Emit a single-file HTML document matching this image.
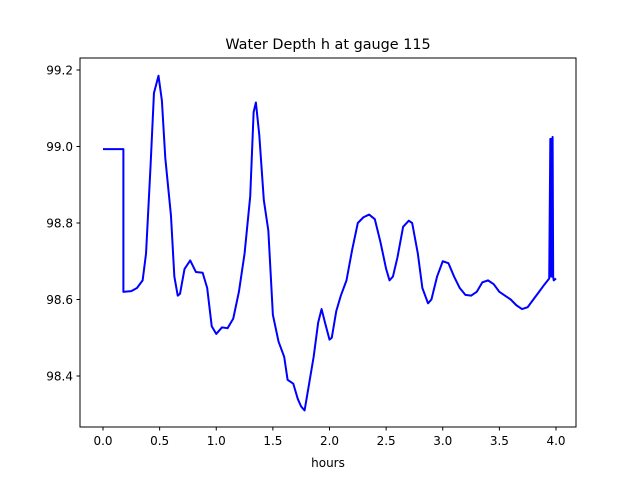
<!DOCTYPE html>
<html><head><meta charset="utf-8"><style>
body{margin:0;background:#fff}
svg{display:block}
text{font-family:"DejaVu Sans","Liberation Sans",sans-serif;font-size:12px;fill:#000}
</style></head><body>
<svg id="chart" width="640" height="480">
<rect width="640" height="480" fill="#fff"/>
<text x="328" y="49" text-anchor="middle" style="font-size:14.4px">Water Depth h at gauge 115</text>
<g id="plot"></g>
<rect x="80" y="58" width="496" height="369" fill="none" stroke="#000" stroke-width="1"/>
<text x="328" y="467" text-anchor="middle">hours</text>
</svg>
<script>
const hours=[0,0.18,0.18,0.25,0.3,0.35,0.38,0.42,0.45,0.49,0.52,0.55,0.6,0.63,0.66,0.68,0.72,0.77,0.82,0.88,0.92,0.96,1.0,1.05,1.1,1.15,1.2,1.25,1.3,1.33,1.35,1.38,1.42,1.46,1.5,1.55,1.6,1.63,1.68,1.72,1.75,1.78,1.82,1.86,1.9,1.93,1.96,2.0,2.02,2.06,2.1,2.15,2.2,2.25,2.3,2.35,2.4,2.45,2.5,2.53,2.56,2.6,2.65,2.7,2.73,2.78,2.82,2.87,2.9,2.95,3.0,3.05,3.1,3.15,3.2,3.25,3.3,3.35,3.4,3.45,3.5,3.55,3.6,3.65,3.7,3.75,3.8,3.85,3.9,3.94,3.95,3.955,3.96,3.965,3.97,3.975,3.98,4.0];
const depth=[98.993,98.993,98.62,98.622,98.63,98.65,98.72,98.95,99.14,99.185,99.12,98.97,98.82,98.66,98.61,98.615,98.68,98.702,98.672,98.67,98.63,98.53,98.51,98.527,98.525,98.55,98.62,98.72,98.87,99.09,99.115,99.03,98.86,98.78,98.56,98.49,98.45,98.39,98.38,98.34,98.32,98.31,98.38,98.45,98.54,98.575,98.54,98.495,98.5,98.57,98.61,98.65,98.73,98.8,98.815,98.822,98.81,98.75,98.68,98.65,98.66,98.71,98.79,98.806,98.8,98.72,98.63,98.59,98.6,98.66,98.7,98.695,98.66,98.63,98.612,98.61,98.62,98.645,98.65,98.64,98.62,98.61,98.6,98.585,98.575,98.58,98.6,98.62,98.64,98.655,99.02,98.66,99.02,98.66,99.025,98.66,98.65,98.655];
const xTicks=[0,0.5,1,1.5,2,2.5,3,3.5,4];
const xTickLabels=["0.0","0.5","1.0","1.5","2.0","2.5","3.0","3.5","4.0"];
const yTicks=[98.4,98.6,98.8,99.0,99.2];
const yTickLabels=["98.4","98.6","98.8","99.0","99.2"];
const NS="http://www.w3.org/2000/svg";
const X=v=>103+v*113.25;
const Y=v=>376-(v-98.4)*382.5;
const g=document.getElementById('plot');
function mk(t,a){const e=document.createElementNS(NS,t);for(const k in a)e.setAttribute(k,a[k]);return e;}
xTicks.forEach((v,i)=>{
 const l=mk('line',{x1:X(v),x2:X(v),y1:427,y2:430.5,stroke:'#000'});
 
 
 g.appendChild(l);
 const t=mk('text',{x:X(v),y:445,'text-anchor':'middle'});
 t.textContent=xTickLabels[i];
 
 
 g.appendChild(t);
});
yTicks.forEach((v,i)=>{
 const l=mk('line',{x1:76.5,x2:80,y1:Y(v),y2:Y(v),stroke:'#000'});
 
 
 g.appendChild(l);
 const t=mk('text',{x:73,y:Y(v)+4.5,'text-anchor':'end'});
 t.textContent=yTickLabels[i];
 
 
 g.appendChild(t);
});
const p=mk('polyline',{points:hours.map((h,i)=>X(h)+','+Y(depth[i])).join(' '),fill:'none',stroke:'#0000ff','stroke-width':2,'stroke-linejoin':'round'});


g.appendChild(p);
</script>
</body></html>
